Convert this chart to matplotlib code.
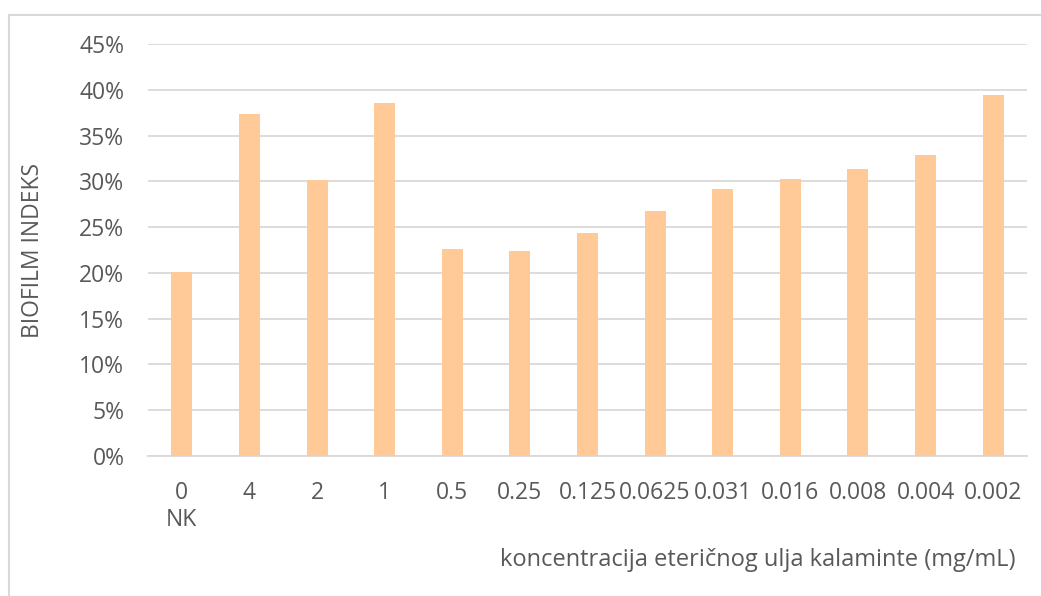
import matplotlib
matplotlib.use("Agg")
import matplotlib.pyplot as plt
from matplotlib.lines import Line2D
from matplotlib.ticker import FuncFormatter, MultipleLocator

categories = ["0\nNK", "4", "2", "1", "0.5", "0.25", "0.125", "0.0625",
              "0.031", "0.016", "0.008", "0.004", "0.002"]
values = [20.1, 37.4, 30.2, 38.6, 22.6, 22.4, 24.4, 26.8, 29.2, 30.3, 31.4, 32.9, 39.45]

plt.rcParams['font.family'] = ['Open Sans', 'DejaVu Sans']
txt = '#595959'
fs = 16.5

W, H = 1041, 596
fig = plt.figure(figsize=(W / 100, H / 100), dpi=100)
ax = fig.add_axes([148 / W, 1 - 455.6 / H, (1027 - 148) / W, (455.6 - 44.3) / H])

x = list(range(len(categories)))
ax.bar(x, values, width=0.31, color='#FFCA98', zorder=3)
ax.set_xlim(-0.5, len(categories) - 0.5)
ax.set_ylim(0, 45)
ax.yaxis.set_major_locator(MultipleLocator(5))
ax.yaxis.set_major_formatter(FuncFormatter(lambda v, p: f"{v:.0f}%"))
ax.grid(axis='y', color='#D9D9D9', linewidth=1.3, zorder=0)
for s in ['top', 'right', 'left']:
    ax.spines[s].set_visible(False)
ax.spines['bottom'].set_color('#D9D9D9')
ax.spines['bottom'].set_linewidth(1.3)
ax.set_xticks(x)
ax.set_xticklabels(categories, linespacing=1.2, va='top')
ax.tick_params(axis='both', length=0, labelsize=fs, labelcolor=txt)
ax.tick_params(axis='x', pad=18)
ax.tick_params(axis='y', pad=17)

fig.text(33 / W, 1 - 250 / H, "BIOFILM INDEKS", rotation=90, ha='center', va='center',
         fontsize=fs, color=txt)
fig.text(1015 / W, 1 - 560 / H, "koncentracija eteričnog ulja kalaminte (mg/mL)",
         ha='right', va='center', fontsize=17, color=txt)

fig.add_artist(Line2D([8.5 / W, 8.5 / W], [0, 1 - 15 / H], color='#D9D9D9', linewidth=1.5,
                      transform=fig.transFigure))
fig.add_artist(Line2D([8.5 / W, 1], [1 - 15 / H, 1 - 15 / H], color='#D9D9D9', linewidth=1.5,
                      transform=fig.transFigure))

fig.savefig("out.png", dpi=100)
